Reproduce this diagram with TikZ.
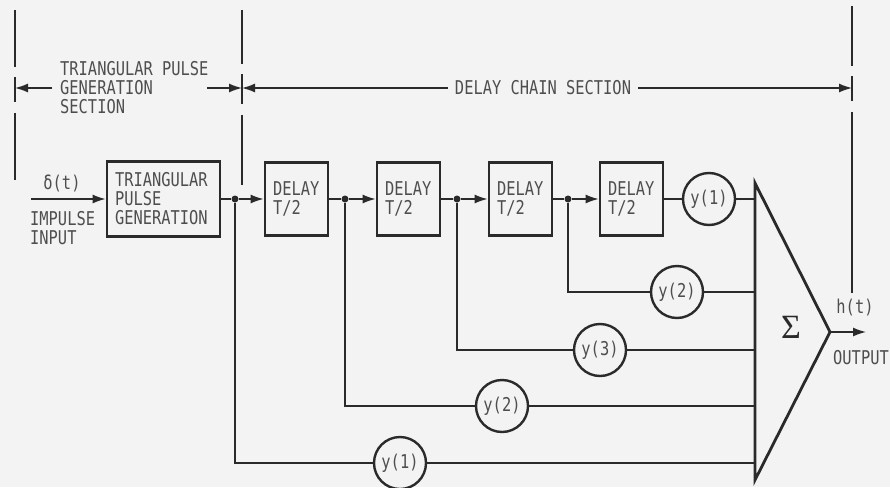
\documentclass[tikz,border=0pt]{standalone}
\usepackage{fontspec}
\newfontfamily\lblfont[FakeStretch=0.81]{DejaVu Sans Mono}
\newfontfamily\sigfont{Liberation Serif}
\usetikzlibrary{arrows.meta}
\definecolor{ink}{HTML}{2A2A2A}
\definecolor{txt}{HTML}{4E4E4E}
\definecolor{paper}{HTML}{F3F3F3}
\begin{document}
\begin{tikzpicture}[x=1pt,y=-1pt,
  lbl/.style={font=\lblfont\fontsize{19}{19}\selectfont, text=txt, inner sep=0pt},
  blk/.style={draw=ink, line width=2.8pt, rectangle, lbl, align=left, inner xsep=8pt, inner ysep=0pt},
  ycirc/.style={draw=ink, line width=2.4pt, circle, minimum size=52pt, inner sep=0pt, lbl},
  wire/.style={draw=ink, line width=1.4pt},
  arr/.style={wire, -{Latex[length=13pt,width=9pt]}},
  bound/.style={draw=ink, line width=2.8pt},
  jdot/.style={circle, fill=ink, minimum size=7pt, inner sep=0pt}
]
\fill[paper] (0,0) rectangle (890,487);
\useasboundingbox (0,0) rectangle (890,487);

% section boundaries
\draw[bound] (15,10) -- (15,67);
\draw[bound] (15,77) -- (15,102);
\draw[bound] (15,113) -- (15,180);
\draw[bound] (242,10) -- (242,64);
\draw[bound] (242,74) -- (242,104);
\draw[bound] (242,115) -- (242,185);
\draw[bound] (852,6) -- (852,66);
\draw[bound] (852,76) -- (852,101);
\draw[bound] (852,112) -- (852,293);
\coordinate (bL) at (15,88);
\coordinate (bM) at (242,88);
\coordinate (bR) at (852,88);
\coordinate (a2) at (207,88);

\node[lbl, anchor=west, align=left] (tps) at (60,88) {TRIANGULAR PULSE\\GENERATION\\SECTION};
\node[lbl] (dcs) at (543,88) {DELAY CHAIN SECTION};
\draw[arr] ([xshift=-8pt]tps.west) -- (bL);
\draw[arr] (a2) -- (bM);
\draw[arr] ([xshift=-7pt]dcs.west) -- (bM);
\draw[arr] ([xshift=7pt]dcs.east) -- (bR);

% main chain
\coordinate (inp) at (31,199);
\node[lbl] (delta) at (62,183) {δ(t)};
\node[lbl, anchor=west, align=left] (imp) at (30,228) {IMPULSE\\INPUT};
\node[blk, text width=97pt, minimum height=75pt] (pg) at (163.5,199) {TRIANGULAR\\PULSE\\GENERATION};
\node[blk, text width=47pt, minimum height=73pt] (d1) at (296.5,199) {DELAY\\T/2};
\node[blk, text width=47pt, minimum height=73pt] (d2) at (408.5,199) {DELAY\\T/2};
\node[blk, text width=47pt, minimum height=73pt] (d3) at (520.5,199) {DELAY\\T/2};
\node[blk, text width=47pt, minimum height=73pt] (d4) at (631.5,199) {DELAY\\T/2};
\node[jdot] (j1) at (235,199) {};
\node[jdot] (j2) at (345,199) {};
\node[jdot] (j3) at (457,199) {};
\node[jdot] (j4) at (568,199) {};

\node[ycirc] (c1) at (709,199) {y(1)};
\node[ycirc] (c2) at (677,292) {y(2)};
\node[ycirc] (c3) at (600,350) {y(3)};
\node[ycirc] (c4) at (502,406) {y(2)};
\node[ycirc] (c5) at (400,463) {y(1)};

% summer
\coordinate (s1) at (755,183);
\coordinate (s2) at (755,480);
\coordinate (s3) at (830,332);
\draw[draw=ink, line width=2.8pt, line join=miter] (s1) -- (s2) -- (s3) -- cycle;
\node[text=ink, font=\sigfont\fontsize{34}{34}\selectfont, inner sep=0pt] (sig) at (791,327) {Σ};
\coordinate (i1) at (755,199);
\coordinate (i2) at (755,292);
\coordinate (i3) at (755,350);
\coordinate (i4) at (755,406);
\coordinate (i5) at (755,463);
\coordinate (outp) at (866,332);
\node[lbl] (ht) at (855,308) {h(t)};
\node[lbl, anchor=west] (outl) at (833,358) {OUTPUT};

\draw[arr] (inp) -- (pg.west);
\draw[wire] (pg.east) -- (j1);
\draw[arr] (j1) -- (d1.west);
\draw[wire] (d1.east) -- (j2);
\draw[arr] (j2) -- (d2.west);
\draw[wire] (d2.east) -- (j3);
\draw[arr] (j3) -- (d3.west);
\draw[wire] (d3.east) -- (j4);
\draw[arr] (j4) -- (d4.west);
\draw[wire] (d4.east) -- (c1);
\draw[wire] (c1) -- (i1);
\draw[wire] (j4) |- (c2);
\draw[wire] (c2) -- (i2);
\draw[wire] (j3) |- (c3);
\draw[wire] (c3) -- (i3);
\draw[wire] (j2) |- (c4);
\draw[wire] (c4) -- (i4);
\draw[wire] (j1) |- (c5);
\draw[wire] (c5) -- (i5);
\draw[arr] (s3) -- (outp);
\end{tikzpicture}
\end{document}
